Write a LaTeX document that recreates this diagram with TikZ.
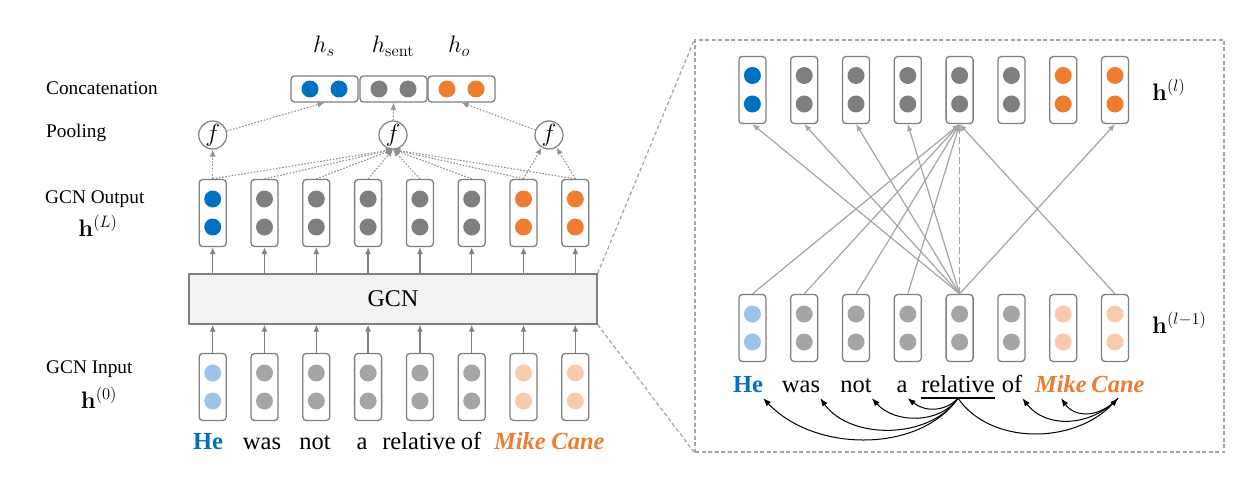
\documentclass[tikz,border=0pt]{standalone}
\usepackage[no-math]{fontspec}
\setmainfont{Liberation Serif}
\usepackage{amsmath}
\usepackage{graphicx}
\usetikzlibrary{arrows.meta}
\definecolor{cblue}{HTML}{0070C0}
\definecolor{cgray}{HTML}{7F7F7F}
\definecolor{corange}{HTML}{ED7D31}
\definecolor{lblue}{HTML}{9DC3E6}
\definecolor{lgray}{HTML}{A5A5A5}
\definecolor{lorange}{HTML}{F8CBAD}
\definecolor{edgec}{HTML}{7F7F7F}
\definecolor{gcnfill}{HTML}{F2F2F2}
\begin{document}
\begin{tikzpicture}[x=1pt,y=-1pt,
  vbox/.style={draw=edgec, line width=1.3pt, rounded corners=3.5pt, minimum width=27pt, minimum height=67pt, inner sep=0pt, fill=white},
  cbox/.style={draw=edgec, line width=1.3pt, rounded corners=3.5pt, minimum width=67pt, minimum height=26pt, inner sep=0pt, fill=white},
  fnode/.style={circle, draw=edgec, line width=1.2pt, minimum size=28pt, inner sep=0pt, fill=white, font=\fontsize{20.74}{24}\selectfont},
  garr/.style={draw=edgec, line width=1.3pt, -{Latex[length=7pt,width=6pt]}},
  darr/.style={draw=edgec!85, line width=1.1pt, dash pattern=on 1.6pt off 1.6pt, -{Latex[length=7pt,width=6pt]}},
  rarr/.style={draw=lgray, line width=1.2pt, -{Latex[length=7pt,width=6pt]}},
  deparr/.style={draw=black, line width=1pt, -{Latex[length=8pt,width=6pt]}},
  lab/.style={font=\fontsize{19.3}{22}\selectfont, anchor=west, inner sep=0pt},
  mlab/.style={font=\fontsize{20.74}{24}\selectfont, inner sep=0pt, scale=1.15},
  word/.style={font=\fontsize{24.5}{28}\selectfont, inner sep=0pt, text depth=6pt, anchor=base},
  zoomline/.style={draw=lgray, line width=1.2pt, dash pattern=on 4pt off 2.5pt}
]
\useasboundingbox (0,0) rectangle (1237,484);
\fill[white] (0,0) rectangle (1237,484);

% zoom panel
\node[zoomline, draw, minimum width=529pt, minimum height=412pt, inner sep=0pt] (panel) at (959.5,246) {};
% GCN box
\node[draw=edgec, fill=gcnfill, line width=1.4pt, minimum width=408pt, minimum height=50pt, inner sep=0pt, font=\fontsize{24}{28}\selectfont] (gcn) at (393,299) {GCN};
\draw[zoomline] (gcn.north east) -- (panel.north west);
\draw[zoomline] (gcn.south east) -- (panel.south west);

% left labels
\node[lab] (lconc) at (46,88) {Concatenation};
\node[lab] (lpool) at (46,133) {Pooling};
\node[lab] (lout) at (45,199) {GCN Output};
\node[mlab] (lhL) at (98,226) {$\mathbf{h}^{(L)}$};
\node[lab] (lin) at (46,369) {GCN Input};
\node[mlab] (lh0) at (99,398) {$\mathbf{h}^{(0)}$};

% concat boxes
\node[cbox] (c1) at (324.5,89) {};
\node[cbox] (c2) at (393.5,89) {};
\node[cbox] (c3) at (461.5,89) {};
\fill[cblue] (310,89) circle (8.5pt) (339,89) circle (8.5pt);
\fill[cgray] (379,89) circle (8.5pt) (408,89) circle (8.5pt);
\fill[corange] (447,89) circle (8.5pt) (476,89) circle (8.5pt);
\node[mlab, anchor=base] (hs) at (324,53) {$h_s$};
\node[mlab, anchor=base] (hsent) at (393,53) {$h_{\mathrm{sent}}$};
\node[mlab, anchor=base] (ho) at (459,53) {$h_o$};

% pooling
\node[fnode] (f1) at (212.7,135) {\scalebox{1.2}{$f$}};
\node[fnode] (f2) at (393,135) {\scalebox{1.2}{$f$}};
\node[fnode] (f3) at (549,135) {\scalebox{1.2}{$f$}};

% vector boxes
\foreach \i/\ca/\cb in {1/cblue/lblue,2/cgray/lgray,3/cgray/lgray,4/cgray/lgray,5/cgray/lgray,6/cgray/lgray,7/corange/lorange,8/corange/lorange}{
  \pgfmathsetmacro\xl{212.7+51.8*(\i-1)}
  \pgfmathsetmacro\xr{752.4+51.8*(\i-1)}
  \node[vbox] (o\i) at (\xl,213) {};
  \fill[\ca] (\xl,199) circle (8.5pt) (\xl,227) circle (8.5pt);
  \node[vbox] (in\i) at (\xl,387) {};
  \fill[\cb] (\xl,373) circle (8.5pt) (\xl,401) circle (8.5pt);
  \node[vbox] (t\i) at (\xr,90) {};
  \fill[\ca] (\xr,75.5) circle (8.5pt) (\xr,104) circle (8.5pt);
  \node[vbox] (b\i) at (\xr,328) {};
  \fill[\cb] (\xr,314) circle (8.5pt) (\xr,342) circle (8.5pt);
  \draw[garr] (o\i.south |- gcn.north) -- (o\i.south);
  \draw[garr] (in\i.north) -- (in\i.north |- gcn.south);
  \draw[darr] (o\i.north) -- (f2.south);
}
\draw[darr] (o1.north) -- (f1.south);
\draw[darr] (o7.north) -- (f3);
\draw[darr] (o8.north) -- (f3);
\draw[darr] (f1) -- (c1.south);
\draw[darr] (f2) -- (c2.south);
\draw[darr] (f3) -- (c3.south);

% right panel connections
\foreach \j in {1,2,3,4,8}{
  \draw[rarr] (b5.north) -- (t\j.south);
  \draw[rarr] (b\j.north) -- (t5.south);
}
\draw[rarr, line width=1.6pt, dash pattern=on 7pt off 3pt] (b5.north) -- (t5.south);

\node[mlab, anchor=west] (hl) at (1152,90) {$\mathbf{h}^{(l)}$};
\node[mlab, anchor=west] (hl1) at (1152,323) {$\mathbf{h}^{(l-1)}$};

% left sentence
\node[word] (whe) at (208,449) {\textcolor{cblue}{\textbf{He}}};
\node[word] (wwas) at (262,449) {was};
\node[word] (wnot) at (315,449) {not};
\node[word] (wa) at (362,449) {a};
\node[word] (wrel) at (419,449) {relative};
\node[word] (wof) at (471,449) {of};
\node[word] (wmike) at (520,449) {\textcolor{corange}{\textbf{\textit{Mike}}}};
\node[word] (wcane) at (578,449) {\textcolor{corange}{\textbf{\textit{Cane}}}};

% right sentence
\node[word] (rhe) at (748,392) {\textcolor{cblue}{\textbf{He}}};
\node[word] (rwas) at (801,392) {was};
\node[word] (rnot) at (856,392) {not};
\node[word] (ra) at (902,392) {a};
\node[word] (rrel) at (958,392) {relative};
\node[word] (rof) at (1012,392) {of};
\node[word] (rmike) at (1061,392) {\textcolor{corange}{\textbf{\textit{Mike}}}};
\node[word] (rcane) at (1118,392) {\textcolor{corange}{\textbf{\textit{Cane}}}};
\draw[line width=1.6pt] (rrel.south west) -- (rrel.south east);

% dependency arcs
\draw[deparr] (rrel.south) .. controls (920,453) and (815,453) .. (rhe.south east);
\draw[deparr] (rrel.south) .. controls (930,440) and (850,440) .. (rwas.south east);
\draw[deparr] (rrel.south) .. controls (940,424) and (895,424) .. (rnot.south east);
\draw[deparr] (rrel.south) .. controls (945,412) and (925,412) .. (ra.south east);
\draw[deparr] (rrel.south) .. controls (990,445) and (1074,445) .. (rcane.south);
\draw[deparr] (rcane.south) .. controls (1090,428) and (1045,428) .. (rof.south east);
\draw[deparr] (rcane.south) .. controls (1100,418) and (1075,418) .. (rmike.south);
\end{tikzpicture}
\end{document}
